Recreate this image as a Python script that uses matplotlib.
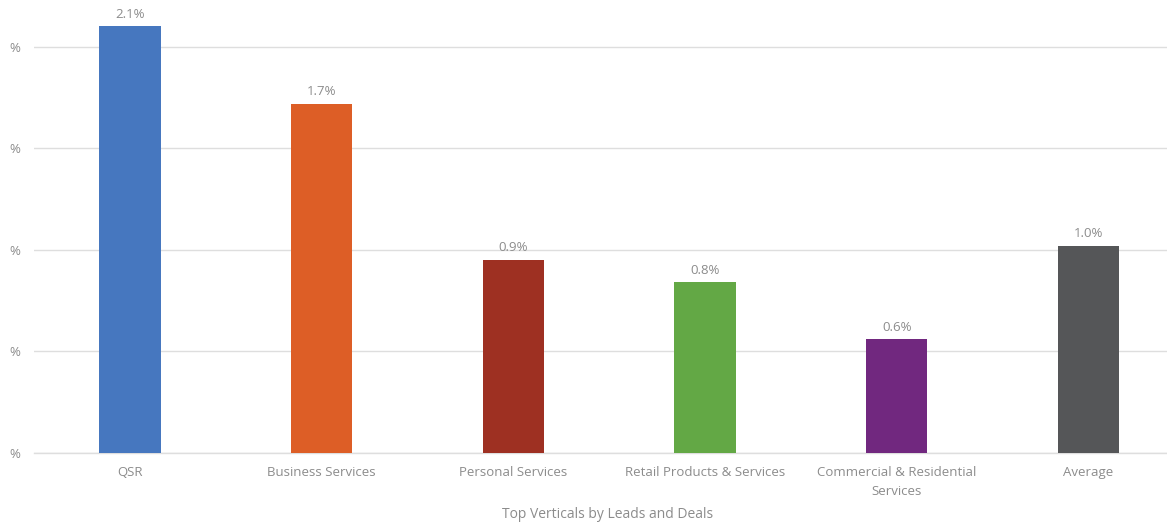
import matplotlib
matplotlib.use("Agg")
import matplotlib.pyplot as plt
from matplotlib.ticker import FixedLocator, FixedFormatter

categories = ["QSR", "Business Services", "Personal Services",
              "Retail Products & Services", "Commercial & Residential\nServices", "Average"]
values = [2.10, 1.72, 0.95, 0.84, 0.56, 1.02]
colors = ["#4677BF", "#DD5E26", "#9E3022", "#63A845", "#71287F", "#555658"]
y_ticks = [0.0, 0.5, 1.0, 1.5, 2.0]
y_tick_labels = ["%"] * len(y_ticks)
x_title = "Top Verticals by Leads and Deals"

plt.rcParams["font.family"] = ["Open Sans", "DejaVu Sans"]
text_color = "#8C8C8C"
grid_color = "#DEDEDE"

W, H = 1167, 525
fig = plt.figure(figsize=(W / 100, H / 100), dpi=100)
ax = fig.add_axes([34 / W, (H - 453) / H, (1167 - 34) / W, 453 / H])

x = range(len(categories))
bars = ax.bar(x, values, width=0.32, color=colors, zorder=3)

ax.set_xlim(-0.5, 5.41)
ax.set_ylim(0, 2.23)

ax.yaxis.set_major_locator(FixedLocator(y_ticks))
ax.yaxis.set_major_formatter(FixedFormatter(y_tick_labels))
ax.grid(axis="y", color=grid_color, linewidth=1.0, zorder=0)
ax.set_xticks(list(x))
ax.set_xticklabels(categories, linespacing=1.6)
ax.tick_params(axis="both", length=0, labelsize=9.5, labelcolor=text_color)
ax.tick_params(axis="x", pad=9.5)
ax.tick_params(axis="y", pad=14)
for lbl in ax.get_yticklabels():
    lbl.set_horizontalalignment("center")

for side in ["top", "right", "left"]:
    ax.spines[side].set_visible(False)
ax.spines["bottom"].set_color(grid_color)
ax.spines["bottom"].set_linewidth(1.0)

for b, v in zip(bars, values):
    ax.annotate(f"{v:.1f}%", (b.get_x() + b.get_width() / 2, v),
                xytext=(0, 4), textcoords="offset points",
                ha="center", va="bottom", fontsize=9.5, color=text_color,
                annotation_clip=False)

fig.text(608 / W, 1 - 514.5 / H, x_title, ha="center", va="center",
         fontsize=10, color=text_color)

fig.savefig("out.png", dpi=100, facecolor="white")
